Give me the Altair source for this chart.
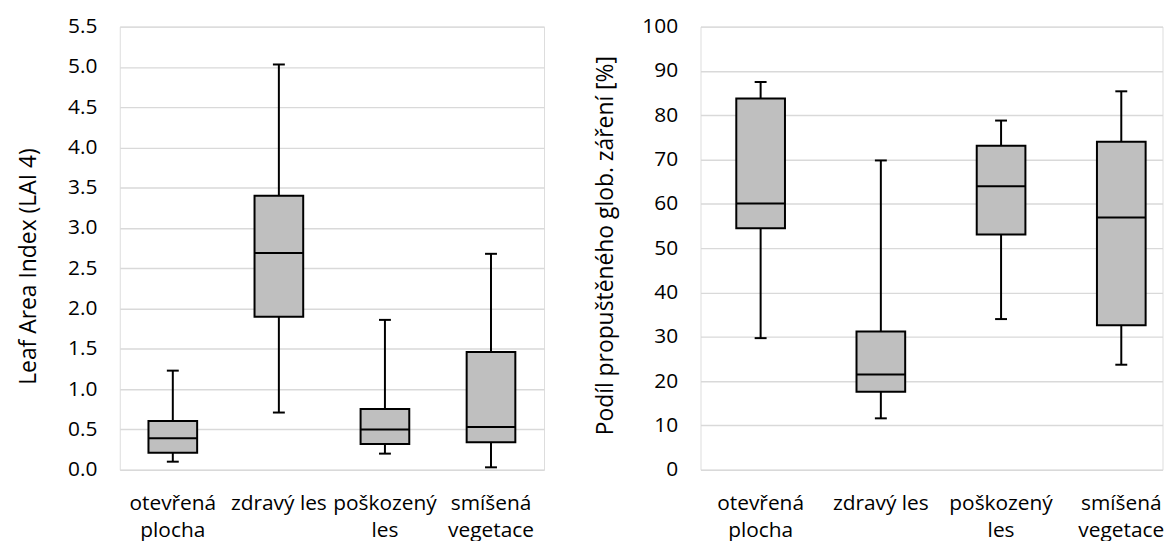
import altair as alt
import pandas as pd

categories = ["otevřená plocha", "zdravý les", "poškozený les", "smíšená vegetace"]

# Leaf Area Index (LAI 4) box statistics
lai_min = [0.10, 0.71, 0.20, 0.03]
lai_q1 = [0.21, 1.90, 0.32, 0.34]
lai_med = [0.39, 2.69, 0.50, 0.53]
lai_q3 = [0.605, 3.40, 0.755, 1.46]
lai_max = [1.23, 5.03, 1.86, 2.68]

# Podíl propuštěného glob. záření [%] box statistics
rad_min = [29.7, 11.6, 34.0, 23.7]
rad_q1 = [54.5, 17.6, 53.1, 32.6]
rad_med = [60.1, 21.5, 64.0, 56.9]
rad_q3 = [83.8, 31.2, 73.1, 74.0]
rad_max = [87.5, 69.8, 78.8, 85.4]

lai_ticks = [0.0, 0.5, 1.0, 1.5, 2.0, 2.5, 3.0, 3.5, 4.0, 4.5, 5.0, 5.5]
rad_ticks = [0, 10, 20, 30, 40, 50, 60, 70, 80, 90, 100]

FONT = "Open Sans"
TEXT = "#000000"
GRID = "#D9D9D9"
FILL = "#BFBFBF"
BOXW = 49
LABEL_SIZE = 21
TITLE_SIZE = 23

lai_df = pd.DataFrame({"kat": categories, "lo": lai_min, "q1": lai_q1,
                       "med": lai_med, "q3": lai_q3, "hi": lai_max})
rad_df = pd.DataFrame({"kat": categories, "lo": rad_min, "q1": rad_q1,
                       "med": rad_med, "q3": rad_q3, "hi": rad_max})

label_expr = "datum.label == 'zdravý les' ? datum.label : split(datum.label, ' ')"


def panel(df, domain, ticks, fmt, title, title_x, title_y, width, xscale):
    x = alt.X("kat:N", sort=categories, scale=xscale,
              axis=alt.Axis(title=None, ticks=False, domain=False, grid=False,
                            labelAngle=0, labelPadding=23, labelLineHeight=27,
                            labelFontSize=LABEL_SIZE, labelFont=FONT,
                            labelColor=TEXT, labelLimit=300,
                            labelExpr=label_expr))
    yscale = alt.Scale(domain=domain, nice=False, zero=True)
    yaxis = alt.Axis(title=title, values=ticks, format=fmt, ticks=False,
                     domain=False, grid=True, gridColor=GRID, gridWidth=1.4,
                     labelPadding=23, labelFontSize=LABEL_SIZE, labelFont=FONT,
                     labelColor=TEXT, titleFont=FONT, titleFontSize=TITLE_SIZE,
                     titleFontWeight="normal", titleColor=TEXT,
                     titleX=title_x, titleY=title_y, titleBaseline="middle",
                     titleAngle=270)
    base = alt.Chart(df)
    whisker = base.mark_rule(color="black", strokeWidth=2).encode(
        x=x, y=alt.Y("lo:Q", scale=yscale, axis=yaxis), y2="hi:Q")
    box = base.mark_bar(width=BOXW, color=FILL, stroke="black",
                        strokeWidth=2).encode(
        x=x, y=alt.Y("q1:Q", scale=yscale), y2="q3:Q")
    median = base.mark_tick(size=BOXW, thickness=2, color="black",
                            opacity=1).encode(x=x, y=alt.Y("med:Q", scale=yscale))
    cap_lo = base.mark_tick(size=12, thickness=2, color="black",
                            opacity=1).encode(x=x, y=alt.Y("lo:Q", scale=yscale))
    cap_hi = base.mark_tick(size=12, thickness=2, color="black",
                            opacity=1).encode(x=x, y=alt.Y("hi:Q", scale=yscale))
    return alt.layer(whisker, box, median, cap_lo, cap_hi).properties(
        width=width, height=446)


left = panel(lai_df, [0, 5.5], lai_ticks, ".1f", "Leaf Area Index (LAI 4)",
             -92, 241, 427, alt.Scale(paddingInner=0, paddingOuter=0))
right = panel(rad_df, [0, 100], rad_ticks, "d",
              "Podíl propuštěného glob. záření [%]", -96, 220, 465,
              alt.Scale(paddingInner=0.5, paddingOuter=0.1715, align=0.729))

chart = alt.hconcat(left, right, spacing=48.5).properties(
    padding={"left": 8.5, "top": 5, "right": 0, "bottom": 0}
).configure_view(stroke=None).configure(background="white")

chart.save("out.html", embed_options={"renderer": "svg", "actions": False})
